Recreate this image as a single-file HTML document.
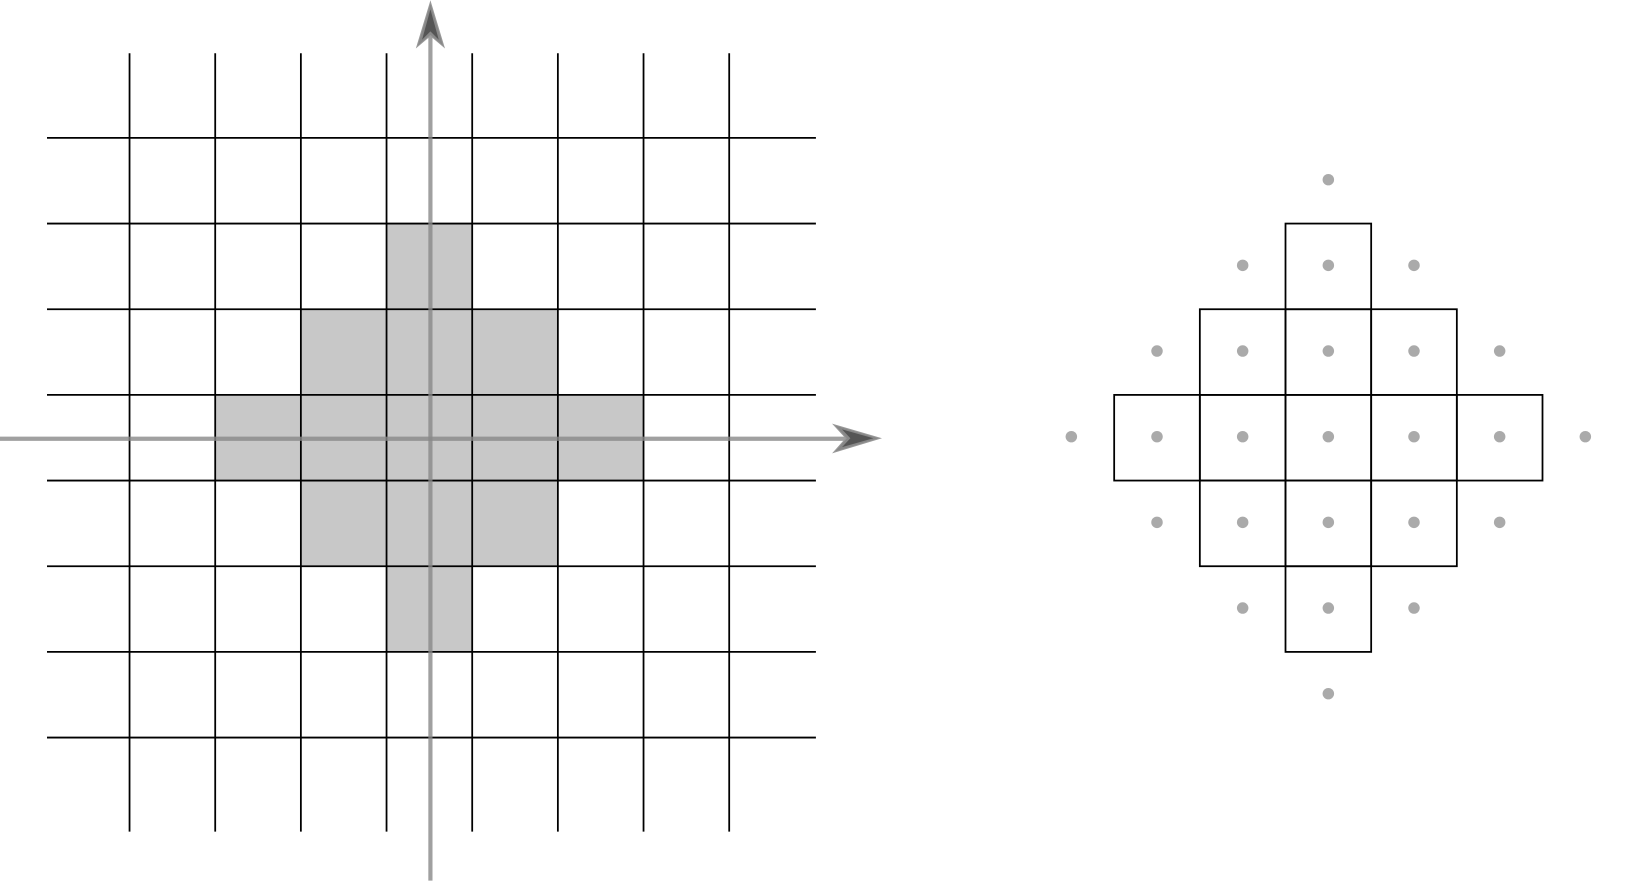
<!DOCTYPE html>
<html><head><meta charset="utf-8"><style>html,body{margin:0;padding:0;background:#fff;}svg{display:block}</style></head>
<body>
<svg width="1636" height="881" viewBox="0 0 1566 843.3" preserveAspectRatio="none" xmlns="http://www.w3.org/2000/svg">
<g fill="#c8c8c8">
<rect x="370" y="214" width="82" height="82"/>
<rect x="288" y="296" width="246" height="82"/>
<rect x="206" y="378" width="410" height="82"/>
<rect x="288" y="460" width="246" height="82"/>
<rect x="370" y="542" width="82" height="82"/>
</g>
<g stroke="#000" stroke-width="1.7" fill="none">
<path d="M124 51V796M206 51V796M288 51V796M370 51V796M452 51V796M534 51V796M616 51V796M698 51V796"/>
<path d="M45 132H781M45 214H781M45 296H781M45 378H781M45 460H781M45 542H781M45 624H781M45 706H781"/>
</g>
<g stroke="#888" stroke-opacity="0.8" stroke-width="4">
<line x1="0" y1="420" x2="815" y2="420"/>
<line x1="412" y1="843" x2="412" y2="30"/>
</g>
<polygon points="842.5,419.5 798,406.5 810,419.5 798,433" fill="#888" stroke="#999" stroke-width="1"/>
<polygon points="836,419.5 806,411 814,419.5 806,428" fill="#555"/>
<polygon points="412,2 399,45 412,34 425,45" fill="#888" stroke="#999" stroke-width="1"/>
<polygon points="412,9 404,38 412,30 420,38" fill="#555"/>
<g transform="translate(-1.5,0)">
<g stroke="#000" stroke-width="1.7" fill="none">
<rect x="1232" y="214" width="82" height="410"/>
<rect x="1150" y="296" width="246" height="246"/>
<rect x="1068" y="378" width="410" height="82"/>
<path d="M1150 378V460M1396 378V460M1232 296H1314M1232 542H1314M1150 378H1396M1150 460H1396M1314 296V542M1232 296V542"/>
</g>
<g fill="#aaa">
<circle cx="1273" cy="172" r="5.5"/>
<circle cx="1191" cy="254" r="5.5"/><circle cx="1273" cy="254" r="5.5"/><circle cx="1355" cy="254" r="5.5"/>
<circle cx="1109" cy="336" r="5.5"/><circle cx="1191" cy="336" r="5.5"/><circle cx="1273" cy="336" r="5.5"/><circle cx="1355" cy="336" r="5.5"/><circle cx="1437" cy="336" r="5.5"/>
<circle cx="1027" cy="418" r="5.5"/><circle cx="1109" cy="418" r="5.5"/><circle cx="1191" cy="418" r="5.5"/><circle cx="1273" cy="418" r="5.5"/><circle cx="1355" cy="418" r="5.5"/><circle cx="1437" cy="418" r="5.5"/><circle cx="1519" cy="418" r="5.5"/>
<circle cx="1109" cy="500" r="5.5"/><circle cx="1191" cy="500" r="5.5"/><circle cx="1273" cy="500" r="5.5"/><circle cx="1355" cy="500" r="5.5"/><circle cx="1437" cy="500" r="5.5"/>
<circle cx="1191" cy="582" r="5.5"/><circle cx="1273" cy="582" r="5.5"/><circle cx="1355" cy="582" r="5.5"/>
<circle cx="1273" cy="664" r="5.5"/>
</g>
</g>
</svg>
</body></html>
